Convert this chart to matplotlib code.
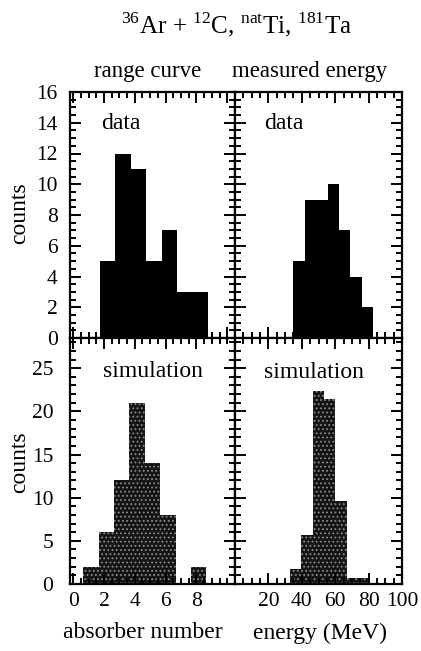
import numpy as np
import matplotlib
matplotlib.use("Agg")
import matplotlib.pyplot as plt
from matplotlib.ticker import MultipleLocator

plt.rcParams['font.family'] = ['Liberation Serif', 'DejaVu Serif']
plt.rcParams['mathtext.fontset'] = 'custom'
plt.rcParams['mathtext.rm'] = 'Liberation Serif'
plt.rcParams['hatch.linewidth'] = 0.8

# range curve (absorber number) histograms
range_edges_data = np.arange(1.75, 9.0, 1.0)
range_counts_data = [5, 12, 11, 5, 7, 3, 3]
range_edges_sim = np.arange(0.65, 9.0, 1.0)
range_counts_sim = [2, 6, 12, 21, 14, 8, 0, 2]

# measured energy histograms (MeV)
energy_edges_data = [35.0, 41.8, 48.6, 55.4, 62.2, 69.0, 75.8, 82.6]
energy_counts_data = [5, 9, 9, 10, 7, 4, 2]
energy_edges_sim = [32.9, 39.7, 46.5, 53.3, 60.1, 66.9, 73.7, 80.5]
energy_counts_sim = [1.7, 5.7, 22.4, 21.4, 9.6, 0.65, 0.65]

range_ticks = [0, 2, 4, 6, 8]
energy_ticks = [20, 40, 60, 80, 100]

W, H = 421, 651
fig = plt.figure(figsize=(W / 100, H / 100), dpi=100)

x0, xm, x1 = 70 / W, 235 / W, 402 / W
y1, ym, y0 = 1 - 92 / H, 1 - 338 / H, 1 - 584 / H

ax_tl = fig.add_axes([x0, ym, xm - x0, y1 - ym])
ax_tr = fig.add_axes([xm, ym, x1 - xm, y1 - ym])
ax_bl = fig.add_axes([x0, y0, xm - x0, ym - y0])
ax_br = fig.add_axes([xm, y0, x1 - xm, ym - y0])


def draw_hist(ax, edges, counts, sim):
    edges = np.asarray(edges)
    if sim:
        ax.bar(edges[:-1], counts, width=np.diff(edges), align='edge',
               facecolor='#151515', edgecolor='#8c8c8c', hatch='....',
               linewidth=0)
    else:
        ax.bar(edges[:-1], counts, width=np.diff(edges), align='edge',
               color='black', linewidth=0)


draw_hist(ax_tl, range_edges_data, range_counts_data, False)
draw_hist(ax_bl, range_edges_sim, range_counts_sim, True)
draw_hist(ax_tr, energy_edges_data, energy_counts_data, False)
draw_hist(ax_br, energy_edges_sim, energy_counts_sim, True)

for ax in (ax_tl, ax_bl):
    ax.set_xlim(-0.2, 10.5)
    ax.xaxis.set_major_locator(MultipleLocator(2))
    ax.xaxis.set_minor_locator(MultipleLocator(0.5))
for ax in (ax_tr, ax_br):
    ax.set_xlim(0, 100)
    ax.xaxis.set_major_locator(MultipleLocator(20))
    ax.xaxis.set_minor_locator(MultipleLocator(5))
for ax in (ax_tl, ax_tr):
    ax.set_ylim(0, 16)
    ax.yaxis.set_major_locator(MultipleLocator(2))
    ax.yaxis.set_minor_locator(MultipleLocator(0.5))
for ax in (ax_bl, ax_br):
    ax.set_ylim(0, 28.5)
    ax.yaxis.set_major_locator(MultipleLocator(5))
    ax.yaxis.set_minor_locator(MultipleLocator(1))

for ax in (ax_tl, ax_tr, ax_bl, ax_br):
    ax.tick_params(which='both', direction='in', top=True, right=True,
                   labelsize=15.5, width=1.4, color='black')
    ax.tick_params(which='major', length=8)
    ax.tick_params(which='minor', length=4)
    for s in ax.spines.values():
        s.set_linewidth(1.6)

ax_tl.tick_params(labelbottom=False, pad=8)
ax_tr.tick_params(labelbottom=False, labelleft=False)
ax_br.tick_params(labelleft=False, pad=6)
ax_bl.tick_params(pad=6)
ax_tl.tick_params(axis='y', pad=9)
ax_bl.tick_params(axis='y', pad=12)

ax_bl.set_xticks(range_ticks)
ax_bl.set_xticklabels([str(t) for t in range_ticks])
ax_br.set_xticks(energy_ticks)
ax_br.set_xticklabels([str(t) for t in energy_ticks])
ax_bl.set_yticks([0, 5, 10, 15, 20, 25])

ax_tl.text(0.31, 0.87, 'data', transform=ax_tl.transAxes, ha='center', va='center', fontsize=17)
ax_tr.text(0.29, 0.87, 'data', transform=ax_tr.transAxes, ha='center', va='center', fontsize=17)
ax_bl.text(0.50, 0.865, 'simulation', transform=ax_bl.transAxes, ha='center', va='center', fontsize=17)
ax_br.text(0.47, 0.86, 'simulation', transform=ax_br.transAxes, ha='center', va='center', fontsize=17)

fig.text(148 / W, 1 - 72 / H, 'range curve', ha='center', va='center', fontsize=16.5)
fig.text(310 / W, 1 - 72 / H, 'measured energy', ha='center', va='center', fontsize=16.5)
fig.text(237 / W, 1 - 25 / H, r'$^{36}$Ar + $^{12}$C, $^{\rm nat}$Ti, $^{181}$Ta',
         ha='center', va='center', fontsize=18)
fig.text(20 / W, 1 - 213 / H, 'counts', rotation=90, ha='center', va='center', fontsize=17)
fig.text(20 / W, 1 - 462 / H, 'counts', rotation=90, ha='center', va='center', fontsize=17)
fig.text(143 / W, 1 - 633 / H, 'absorber number', ha='center', va='center', fontsize=17)
fig.text(320 / W, 1 - 633 / H, 'energy (MeV)', ha='center', va='center', fontsize=17)

fig.savefig('out.png', dpi=100)
